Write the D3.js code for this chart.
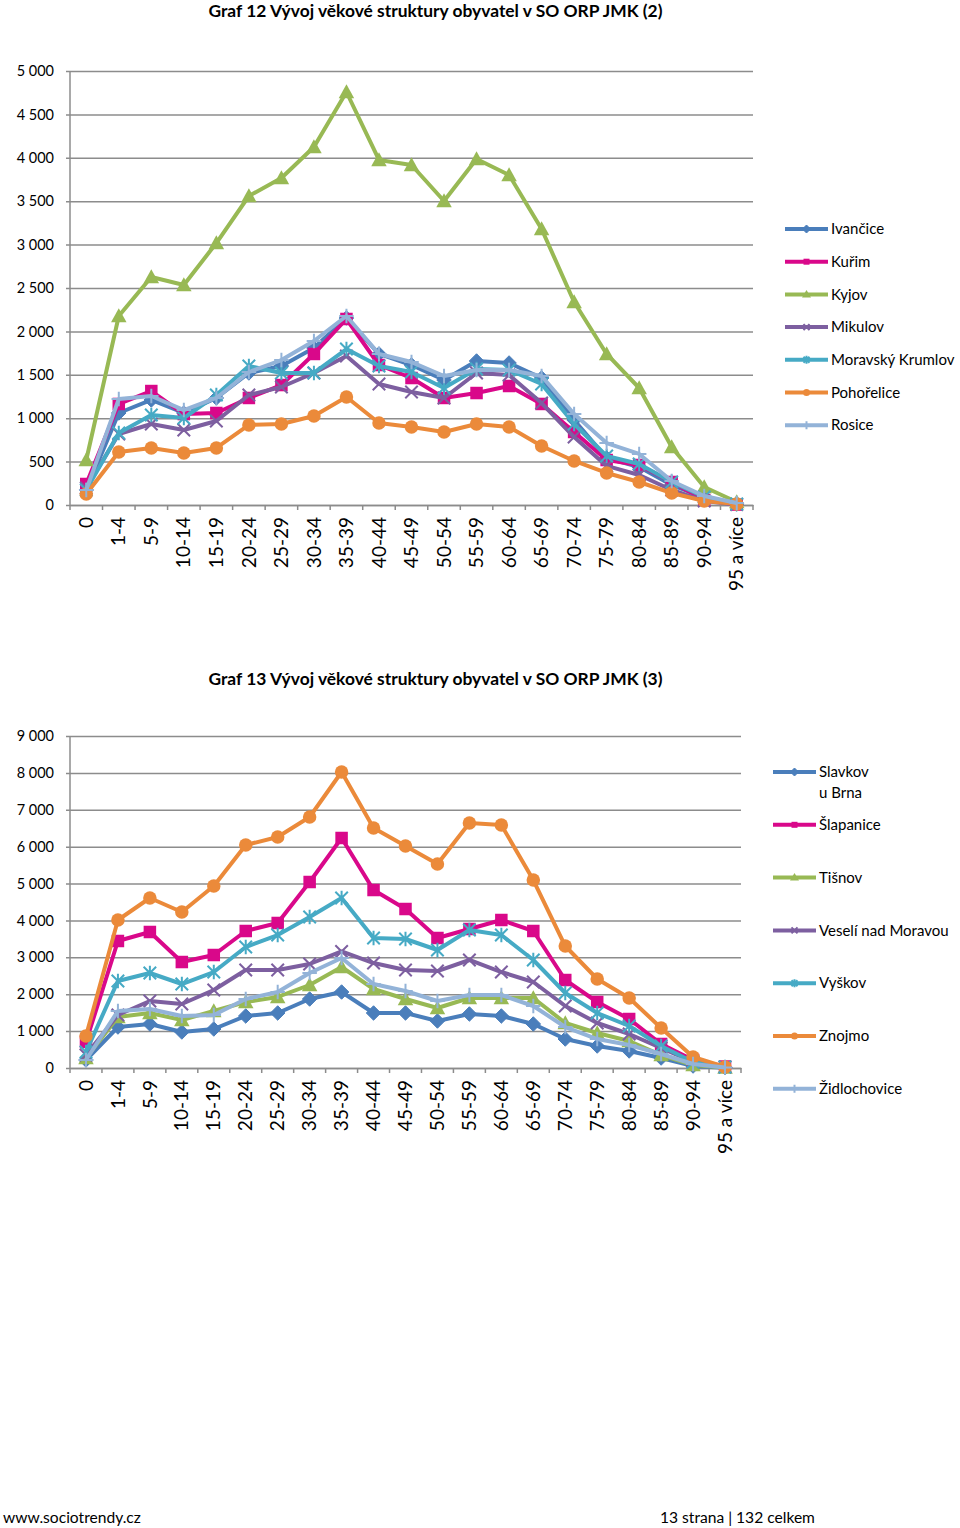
<!DOCTYPE html>
<html><head><meta charset="utf-8">
<script src="https://cdn.jsdelivr.net/npm/d3@7"></script>
<style>
body{margin:0;background:#fff;}
svg{display:block;font-family:Lato,"Open Sans",sans-serif;}
</style></head>
<body><svg id="c" width="960" height="1528"></svg>
<script>
const ages = ["0","1-4","5-9","10-14","15-19","20-24","25-29","30-34","35-39","40-44","45-49","50-54","55-59","60-64","65-69","70-74","75-79","80-84","85-89","90-94","95 a více"];

// Graf 12
const names1 = ["Ivančice","Kuřim","Kyjov","Mikulov","Moravský Krumlov","Pohořelice","Rosice"];
const ivancice = [173,1060,1210,1060,1233,1521,1601,1809,2154,1740,1613,1440,1659,1636,1463,979,541,438,230,92,12];
const kurim    = [242,1164,1313,1048,1060,1233,1382,1740,2143,1613,1463,1233,1290,1371,1164,841,518,461,265,58,5];
const kyjov    = [518,2177,2627,2535,3018,3560,3767,4124,4758,3975,3917,3502,3986,3802,3180,2339,1740,1348,668,207,35];
const mikulov  = [196,818,933,864,968,1267,1359,1521,1717,1394,1302,1233,1521,1498,1175,783,450,346,173,46,5];
const moravskyKrumlov = [173,830,1037,1002,1267,1601,1521,1521,1797,1601,1532,1348,1567,1555,1394,933,565,472,265,92,12];
const pohorelice = [127,610,657,600,657,922,933,1025,1244,945,899,841,933,899,680,507,369,265,138,46,12];
const rosice   = [173,1221,1256,1094,1233,1532,1670,1889,2177,1740,1647,1486,1555,1555,1486,1048,714,588,276,104,23];

// Graf 13
const names2 = ["Slavkov u Brna","Šlapanice","Tišnov","Veselí nad Moravou","Vyškov","Znojmo","Židlochovice"];
const slavkov  = [217,1111,1193,976,1057,1410,1491,1870,2060,1491,1491,1274,1464,1410,1193,786,596,461,271,54,10];
const slapanice= [705,3443,3687,2873,3063,3714,3931,5042,6235,4825,4310,3524,3768,4012,3714,2385,1789,1328,651,217,40];
const tisnov   = [271,1383,1491,1301,1545,1789,1925,2250,2738,2141,1870,1626,1898,1898,1898,1220,949,732,352,81,15];
const veseli   = [352,1437,1816,1735,2114,2657,2657,2819,3160,2846,2657,2629,2928,2602,2331,1681,1220,922,542,163,27];
const vyskov   = [434,2358,2575,2277,2602,3280,3605,4093,4608,3524,3497,3199,3741,3605,2928,2033,1491,1139,596,163,27];
const znojmo   = [867,4012,4608,4229,4933,6045,6262,6804,8024,6506,6018,5530,6641,6587,5096,3307,2413,1898,1084,298,27];
const zidlochovice = [217,1545,1599,1410,1437,1870,2060,2575,2982,2277,2087,1816,1979,1979,1681,1111,786,623,380,108,15];

const ticks1 = [0,500,1000,1500,2000,2500,3000,3500,4000,4500,5000];
const ticks2 = [0,1000,2000,3000,4000,5000,6000,7000,8000,9000];

const colors = ["#4A7EBB","#D9088A","#98B954","#7D5FA0","#46AAC5","#EB8A3A","#93B3D8"];
const markers = ["diamond","square","triangle","x","asterisk","circle","plus"];

const fmt = d3.formatLocale({decimal:",",thousands:"\u00a0",grouping:[3],currency:["",""]}).format(",");
const svg = d3.select("#c");

function marker(g, type, color, x, y, s){
  const h = s/2;
  if(type==="diamond"){
    g.append("path").attr("d",`M${x},${y-h-1}L${x+h+1},${y}L${x},${y+h+1}L${x-h-1},${y}Z`).attr("fill",color).attr("stroke",color);
  } else if(type==="square"){
    g.append("rect").attr("x",x-h).attr("y",y-h).attr("width",s).attr("height",s).attr("fill",color);
  } else if(type==="triangle"){
    g.append("path").attr("d",`M${x},${y-h-1.5}L${x+h+1.5},${y+h}L${x-h-1.5},${y+h}Z`).attr("fill",color);
  } else if(type==="circle"){
    g.append("circle").attr("cx",x).attr("cy",y).attr("r",h+0.5).attr("fill",color);
  } else if(type==="x"){
    g.append("path").attr("d",`M${x-h},${y-h}L${x+h},${y+h}M${x-h},${y+h}L${x+h},${y-h}`).attr("stroke",color).attr("stroke-width",2);
  } else if(type==="asterisk"){
    g.append("path").attr("d",`M${x-h},${y-h}L${x+h},${y+h}M${x-h},${y+h}L${x+h},${y-h}M${x},${y-h-1}L${x},${y+h+1}`).attr("stroke",color).attr("stroke-width",2);
  } else if(type==="plus"){
    g.append("path").attr("d",`M${x-h-1},${y}L${x+h+1},${y}M${x},${y-h-1}L${x},${y+h+1}`).attr("stroke",color).attr("stroke-width",2);
  }
}

function chart(cfg){
  const g = svg.append("g");
  const x = d3.scaleBand().domain(ages).range([cfg.x0,cfg.x1]).padding(0);
  const y = d3.scaleLinear().domain([0,cfg.ymax]).range([cfg.yb,cfg.yt]);
  // title
  g.append("text").attr("x",435.5).attr("y",cfg.titleY).attr("text-anchor","middle")
    .attr("font-weight","bold").attr("font-size",17.4).attr("fill","#000").text(cfg.title);
  // gridlines
  const yAxis = d3.axisLeft(y).tickValues(cfg.ticks).tickSize(-(cfg.x1-cfg.x0)-4).tickFormat(fmt).tickPadding(12);
  const ya = g.append("g").attr("transform",`translate(${cfg.x0-4},0)`).call(yAxis);
  ya.select(".domain").remove();
  ya.selectAll(".tick line").attr("stroke","#8c8c8c").attr("stroke-width",1.5);
  ya.selectAll(".tick text").attr("font-size",14.5).attr("fill","#000").attr("font-family","Lato,sans-serif");
  // y axis line
  g.append("line").attr("x1",cfg.x0).attr("x2",cfg.x0).attr("y1",cfg.yt).attr("y2",cfg.yb).attr("stroke","#8c8c8c").attr("stroke-width",1.5);
  // x axis
  const xAxis = d3.axisBottom(x).tickSize(0).tickPadding(0);
  const xa = g.append("g").attr("transform",`translate(0,${cfg.yb})`).call(xAxis);
  xa.select(".domain").attr("stroke","#8c8c8c").attr("stroke-width",1.5);
  xa.selectAll(".tick text").attr("transform","rotate(-90)").attr("text-anchor","end")
    .attr("x",-12).attr("y",0).attr("dy","0.35em").attr("font-size",19).attr("fill","#000").attr("font-family","Lato,sans-serif");
  // boundary ticks
  const bounds = ages.map(a=>x(a)).concat([cfg.x1]);
  g.selectAll(".bt").data(bounds).enter().append("line")
    .attr("x1",d=>d).attr("x2",d=>d).attr("y1",cfg.yb).attr("y2",cfg.yb+5).attr("stroke","#8c8c8c").attr("stroke-width",1.5);
  const cx = a => x(a)+x.bandwidth()/2;
  const line = d3.line().x((d,i)=>cx(ages[i])).y(d=>y(d));
  cfg.series.forEach((s,k)=>{
    const sg = g.append("g");
    sg.append("path").datum(s).attr("d",line).attr("fill","none").attr("stroke",colors[k]).attr("stroke-width",4).attr("stroke-linejoin","round");
    s.forEach((v,i)=>marker(sg,markers[k],colors[k],cx(ages[i]),y(v),12.5));
  });
  // legend
  const lg = g.append("g");
  cfg.names.forEach((n,k)=>{
    const ly = cfg.legY + k*cfg.legStep;
    lg.append("line").attr("x1",cfg.legX).attr("x2",cfg.legX+43).attr("y1",ly).attr("y2",ly).attr("stroke",colors[k]).attr("stroke-width",4);
    marker(lg,markers[k],colors[k],cfg.legX+21.5,ly,6);
    const t = lg.append("text").attr("x",cfg.legX+46).attr("y",ly).attr("dy","0.35em").attr("font-size",15).attr("fill","#000");
    const parts = cfg.wrap && cfg.wrap[n] ? cfg.wrap[n] : [n];
    parts.forEach((p,j)=>t.append("tspan").attr("x",cfg.legX+46).attr("dy",j===0?"0.35em":"1.4em").text(p));
  });
}

chart({title:"Graf 12 Vývoj věkové struktury obyvatel v SO ORP JMK (2)", titleY:17,
  x0:70,x1:753,yt:71,yb:505,ymax:5000,ticks:ticks1,
  series:[ivancice,kurim,kyjov,mikulov,moravskyKrumlov,pohorelice,rosice],
  names:names1, legX:785, legY:229, legStep:32.7});

chart({title:"Graf 13 Vývoj věkové struktury obyvatel v SO ORP JMK (3)", titleY:685,
  x0:70,x1:741,yt:736,yb:1068,ymax:9000,ticks:ticks2,
  series:[slavkov,slapanice,tisnov,veseli,vyskov,znojmo,zidlochovice],
  names:names2, legX:773, legY:772, legStep:52.8, wrap:{"Slavkov u Brna":["Slavkov","u Brna"]}});

svg.append("text").attr("x",3).attr("y",1523).attr("font-size",15.6).attr("fill","#000").text("www.sociotrendy.cz");
svg.append("text").attr("x",660).attr("y",1523).attr("font-size",15.6).attr("fill","#000").text("13 strana | 132 celkem");
</script></body></html>
